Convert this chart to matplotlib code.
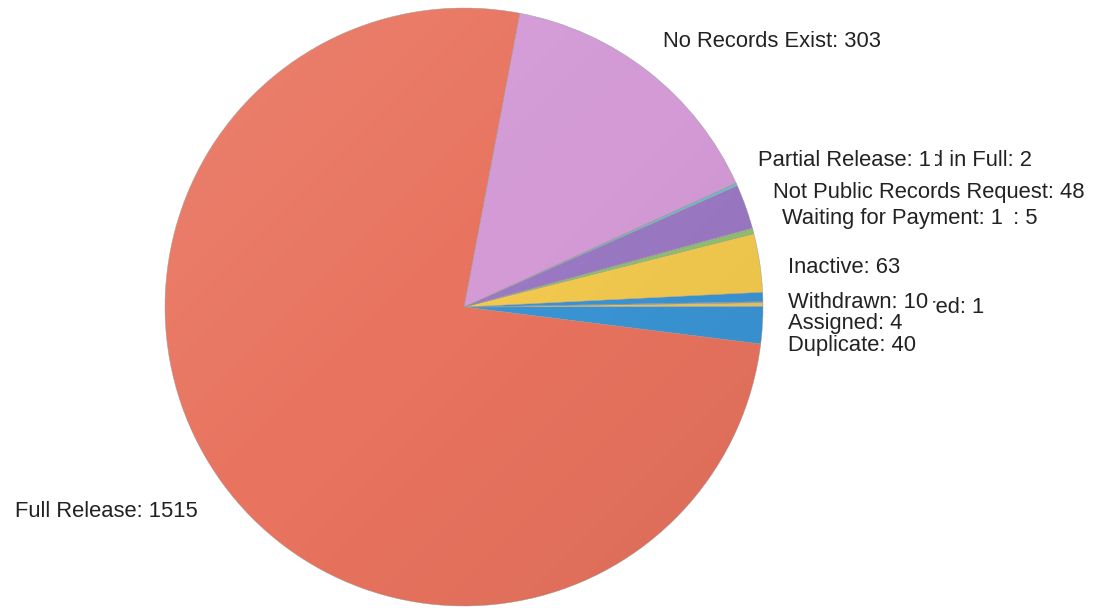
import numpy as np
import matplotlib
matplotlib.use('Agg')
import matplotlib.pyplot as plt
from matplotlib.patches import Circle

# Dane wykresu (kolejnosc: przeciwnie do ruchu wskazowek zegara od prawej strony)
categories = ['Duplicate', 'Assigned', 'Referred', 'Withdrawn', 'Inactive',
              'Pending', 'Waiting for Payment', 'Not Public Records Request',
              'Denied in Full', 'Partial Release', 'No Records Exist', 'Full Release']
counts = [40, 4, 1, 10, 63, 5, 1, 48, 2, 1, 303, 1515]

colors = ['#3A94D4', '#E3C565', '#6FAED8', '#3A94D4', '#F2C94E',
          '#8CC46A', '#A7C775', '#9A78C3', '#5BC8DB', '#6CBFD0',
          '#D39AD6', '#E8735E']

# Polozenie etykiet w pikselach (lewy brzeg, linia bazowa od gory)
label_pos = {
    'Full Release': (15, 517),
    'No Records Exist': (663, 47),
    'Denied in Full': (874, 166),
    'Partial Release': (758, 166),
    'Not Public Records Request': (773, 198),
    'Pending': (933, 224),
    'Waiting for Payment': (782, 224),
    'Inactive': (788, 273),
    'Referred': (875, 313),
    'Withdrawn': (788, 308),
    'Assigned': (788, 329),
    'Duplicate': (788, 351),
}
# etykiety rysowane z bialym tlem (zaslaniaja sasiednie), z marginesem
covering = {'Partial Release': 0.2, 'Waiting for Payment': 0.45, 'Withdrawn': 0.2}
draw_order = ['Full Release', 'No Records Exist', 'Denied in Full', 'Partial Release',
              'Pending', 'Waiting for Payment', 'Not Public Records Request',
              'Inactive', 'Referred', 'Withdrawn', 'Assigned', 'Duplicate']

W, H = 1094, 610
cx, cy, r = 464, H - 307, 299

fig = plt.figure(figsize=(W / 100, H / 100), dpi=100)
ax = fig.add_axes([0, 0, 1, 1])

wedges, _ = ax.pie(counts, colors=colors, startangle=-7.1, counterclock=True,
                   center=(cx, cy), radius=r,
                   wedgeprops=dict(linewidth=0.3, edgecolor='#999999'))

# delikatny gradient (jasniej u gory po lewej)
g = np.linspace(0, 1, 300)
X, Y = np.meshgrid(g, g)
u = (X - Y + 1) / 2
rgba = np.zeros((300, 300, 4))
light = u < 0.5
rgba[light, :3] = 1.0
rgba[light, 3] = (0.5 - u[light]) * 0.22
rgba[~light, 3] = (u[~light] - 0.5) * 0.12
im = ax.imshow(rgba, extent=[cx - r, cx + r, cy - r, cy + r], origin='lower',
               interpolation='bilinear', zorder=2)
im.set_clip_path(Circle((cx, cy), r, transform=ax.transData))

ax.set_xlim(0, W)
ax.set_ylim(0, H)
ax.set_aspect('equal')
ax.axis('off')

font = ['Liberation Sans', 'DejaVu Sans']
for name in draw_order:
    i = categories.index(name)
    x, yb = label_pos[name]
    box = None
    if name in covering:
        box = dict(boxstyle=f'square,pad={covering[name]}', facecolor='white',
                   edgecolor='none')
    ax.text(x, H - yb, f'{name}: {counts[i]}', ha='left', va='baseline',
            fontsize=15.8, family=font, color='#222222', bbox=box, zorder=5)

fig.savefig('out.png', dpi=100)
